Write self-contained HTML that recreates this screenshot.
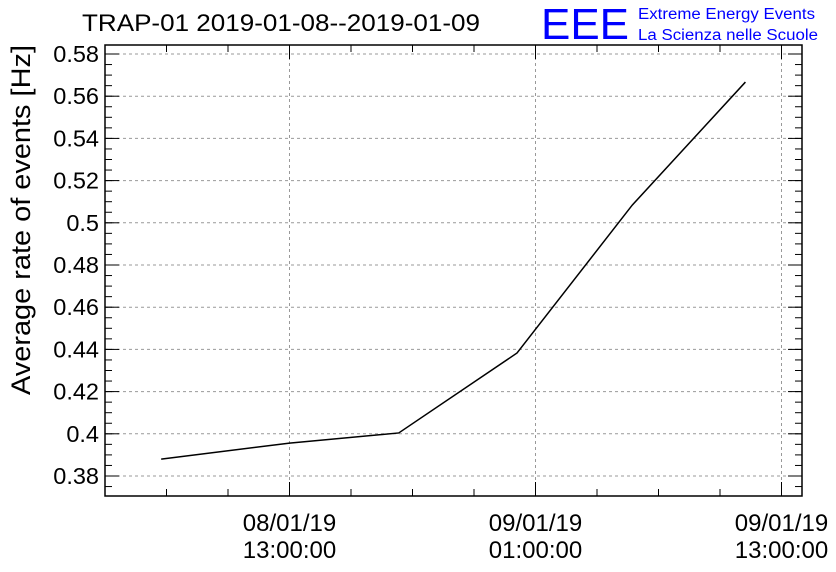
<!DOCTYPE html>
<html><head><meta charset="utf-8"><style>
body{margin:0;background:#fff;}
svg{display:block;font-family:"Liberation Sans",sans-serif;}
</style></head><body>
<svg width="836" height="572">
<g id="grid"></g><g id="ticks"></g><g id="labels"></g>
<rect x="105" y="45" width="697" height="451" fill="none" stroke="#000" stroke-width="1.5"/>
<polyline id="series" fill="none" stroke="#000" stroke-width="1.5"/>
<text x="82" y="31" font-size="24" textLength="398" lengthAdjust="spacingAndGlyphs">TRAP-01 2019-01-08--2019-01-09</text>
<text x="541" y="39" font-size="44" fill="#0000ff" textLength="88" lengthAdjust="spacingAndGlyphs">EEE</text>
<text x="638" y="19" font-size="15.5" fill="#0000ff" textLength="177" lengthAdjust="spacingAndGlyphs">Extreme Energy Events</text>
<text x="638" y="40" font-size="15.5" fill="#0000ff" textLength="180" lengthAdjust="spacingAndGlyphs">La Scienza nelle Scuole</text>
<text transform="translate(30,45) rotate(-90)" text-anchor="end" font-size="27" textLength="350" lengthAdjust="spacingAndGlyphs">Average rate of events [Hz]</text>
</svg>
<script>
const hours=[6.74,13,18.33,24.1,29.72,35.24];
const rates=[0.388,0.3956,0.4004,0.4383,0.5084,0.5667];
const yTicks=[0.38,0.40,0.42,0.44,0.46,0.48,0.50,0.52,0.54,0.56,0.58];
const yTickLabels=["0.38","0.4","0.42","0.44","0.46","0.48","0.5","0.52","0.54","0.56","0.58"];
const xTicks=[13,25,37];
const xTickLabels=[["08/01/19","13:00:00"],["09/01/19","01:00:00"],["09/01/19","13:00:00"]];
const L=105,R=802,T=45,B=496;
const X=h=>L+(h-4)/(38-4)*(R-L);
const Y=v=>476-(v-0.38)/0.02*42.2;
const NS="http://www.w3.org/2000/svg";
function mk(parent,tag,a){const e=document.createElementNS(NS,tag);for(const k in a)e.setAttribute(k,a[k]);document.getElementById(parent).appendChild(e);return e;}
yTicks.forEach((v,i)=>{const y=Y(v);
 const g=mk('grid','line',{x1:L,x2:R,y1:y,y2:y,stroke:'#999','stroke-dasharray':'3,3','stroke-width':1});
 
 
 [[L,L+14],[R-14,R]].forEach(([a,b])=>{const t=mk('ticks','line',{x1:a,x2:b,y1:y,y2:y,stroke:'#000'});
 
 });
 const tx=mk('labels','text',{x:L-6,y:y+8,'text-anchor':'end','font-size':23.5});tx.textContent=yTickLabels[i];
 
 
});
for(let v=0.375;v<=0.585;v+=0.005){const y=Y(v);if(y<T||y>B)continue;
 [[L,L+7],[R-7,R]].forEach(([a,b])=>{const t=mk('ticks','line',{x1:a,x2:b,y1:y,y2:y,stroke:'#000'});
 
 });}
for(let h=4;h<=38;h+=3){const x=X(h);const major=xTicks.includes(h);const len=major?14:7;
 [[B,B-len],[T,T+len]].forEach(([a,b])=>{const t=mk('ticks','line',{x1:x,x2:x,y1:a,y2:b,stroke:'#000'});
 
 });}
xTicks.forEach((h,i)=>{const x=X(h);
 const g=mk('grid','line',{x1:x,x2:x,y1:T,y2:B,stroke:'#999','stroke-dasharray':'3,3'});
 
 
 xTickLabels[i].forEach((s,j)=>{const t=mk('labels','text',{x:x,y:531+j*27,'text-anchor':'middle','font-size':24});t.textContent=s;
 
 });
});
document.getElementById('series').setAttribute('points',hours.map((h,i)=>X(h)+','+Y(rates[i])).join(' '));
</script>
</body></html>
